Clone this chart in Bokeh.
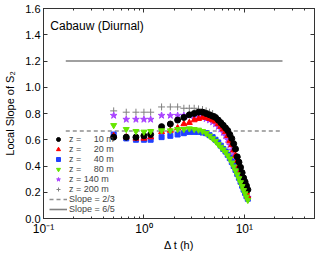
from bokeh.plotting import figure
from bokeh.models import (Legend, LegendItem, LinearAxis, LogAxis, LogTicker, BasicTicker,
                          Label, CustomJSTickFormatter, PrintfTickFormatter, Range1d)
from bokeh.embed import file_html
from bokeh.resources import INLINE

FONT = "Liberation Sans"

# ---- data ----
dt = [0.5, 0.667, 0.833, 1.0, 1.167, 1.5, 1.833, 2.167, 2.5, 2.833, 3.167, 3.5, 3.833,
      4.167, 4.5, 4.833, 5.167, 5.5, 5.833, 6.167, 6.5, 6.833, 7.167, 7.5, 7.833, 8.167,
      8.5, 8.833, 9.167, 9.5, 9.833, 10.167, 10.5, 10.833]

z10 = [0.62, 0.62, 0.62, 0.63, 0.64, 0.70, 0.72, 0.75, 0.77, 0.79, 0.80, 0.81, 0.81,
       0.80, 0.79, 0.78, 0.77, 0.75, 0.73, 0.71, 0.69, 0.67, 0.64, 0.61, 0.57, 0.53,
       0.47, 0.43, 0.39, 0.35, 0.31, 0.28, 0.25, 0.22]
z20 = [0.63, 0.62, 0.61, 0.61, 0.62, 0.66, 0.67, 0.69, 0.72, 0.73, 0.75, 0.76, 0.77,
       0.77, 0.76, 0.75, 0.74, 0.72, 0.70, 0.68, 0.66, 0.63, 0.59, 0.56, 0.52, 0.48,
       0.44, 0.40, 0.36, 0.32, 0.28, 0.24, 0.20, 0.17]
z40 = [0.64, 0.61, 0.60, 0.60, 0.60, 0.62, 0.63, 0.64, 0.65, 0.66, 0.66, 0.66, 0.655,
       0.65, 0.635, 0.62, 0.60, 0.58, 0.555, 0.53, 0.51, 0.485, 0.46, 0.43, 0.40, 0.37,
       0.34, 0.31, 0.28, 0.25, 0.22, 0.195, 0.17, 0.15]
z80 = [0.71, 0.68, 0.665, 0.66, 0.665, 0.67, 0.67, 0.68, 0.68, 0.685, 0.68, 0.675, 0.665,
       0.65, 0.63, 0.61, 0.59, 0.565, 0.545, 0.525, 0.505, 0.48, 0.455, 0.425, 0.395, 0.365,
       0.335, 0.305, 0.275, 0.245, 0.215, 0.19, 0.165, 0.14]
z140 = [0.785, 0.755, 0.755, 0.755, 0.755, 0.785, 0.785, 0.785, 0.785, 0.785, 0.78, 0.775, 0.77,
        0.76, 0.75, 0.735, 0.72, 0.70, 0.68, 0.655, 0.63, 0.60, 0.56, 0.52, 0.485, 0.45,
        0.41, 0.375, 0.34, 0.30, 0.265, 0.23, 0.195, 0.16]
z200 = [0.82, 0.81, 0.81, 0.81, 0.81, 0.85, 0.85, 0.85, 0.84, 0.84, 0.84, 0.835, 0.83,
        0.82, 0.81, 0.80, 0.77, 0.75, 0.73, 0.70, 0.68, 0.66, 0.63, 0.60, 0.56, 0.52,
        0.465, 0.425, 0.385, 0.345, 0.305, 0.275, 0.245, 0.215]

ref_x = [1 / 6, 24]
slope23 = [2 / 3, 2 / 3]
slope65 = [6 / 5, 6 / 5]

labels = ["z = \u2007\u200710 m", "z = \u2007\u200720 m", "z = \u2007\u200740 m",
          "z = \u2007\u200780 m", "z = 140 m", "z = 200 m", "Slope = 2/3", "Slope = 6/5"]

# ---- figure ----
p = figure(width=319, height=253, x_axis_type="log",
           x_range=Range1d(0.1, 50), y_range=Range1d(0, 1.6),
           output_backend="svg", toolbar_location=None,
           min_border_left=43, min_border_right=5, min_border_top=8, min_border_bottom=33)
p.background_fill_color = "white"
p.border_fill_color = "white"
p.outline_line_color = "#333333"
p.xgrid.grid_line_color = None
p.ygrid.grid_line_color = None

r_s65 = p.line(ref_x, slope65, line_color="#808080", line_width=1.6)
r_s23 = p.line(ref_x, slope23, line_color="#909090", line_width=1.4, line_dash="4 3")

r200 = p.scatter(dt, z200, marker="cross", size=7, line_color="#808080", line_width=1)
r140 = p.scatter(dt, z140, marker="star", size=7, fill_color="#aa44ff", line_color="#aa44ff")
r40 = p.scatter(dt, z40, marker="square", size=5, fill_color="#2040ff", line_color="#2040ff")
r20 = p.scatter(dt, z20, marker="triangle", size=6, fill_color="#ff0000", line_color="#ff0000")
r10 = p.scatter(dt, z10, marker="circle", size=6, fill_color="#000000", line_color="#000000")
r80 = p.scatter(dt, z80, marker="inverted_triangle", size=6, fill_color="#66e600", line_color="#66e600")

sup = CustomJSTickFormatter(code="""
const m = {'-':'\u207b','0':'\u2070','1':'\u00b9','2':'\u00b2','3':'\u00b3','4':'\u2074',
           '5':'\u2075','6':'\u2076','7':'\u2077','8':'\u2078','9':'\u2079'};
const e = Math.round(Math.log10(tick));
return '10' + String(e).split('').map(c => m[c]).join('');
""")

for ax in p.xaxis:
    ax.formatter = sup
    ax.ticker = LogTicker(num_minor_ticks=10)
for ax in list(p.xaxis) + list(p.yaxis):
    ax.axis_line_color = "#333333"
    ax.major_tick_line_color = "#333333"
    ax.minor_tick_line_color = "#333333"
    ax.major_tick_in = 4
    ax.major_tick_out = 0
    ax.minor_tick_in = 2
    ax.minor_tick_out = 0
    ax.major_label_text_font = FONT
    ax.major_label_text_color = "black"
    ax.axis_label_text_font = FONT
    ax.axis_label_text_font_style = "normal"
    ax.axis_label_text_font_size = "11px"
    ax.axis_label_text_color = "black"

p.xaxis.major_label_text_font_size = "12px"
p.xaxis.major_label_standoff = 3
p.xaxis.axis_label = "\u0394 t (h)"
p.xaxis.axis_label_standoff = 0
p.yaxis.major_label_text_font_size = "11px"
p.yaxis.major_label_standoff = 3
p.yaxis.minor_tick_line_color = None
p.yaxis.axis_label = "Local Slope of S\u2082"
p.yaxis.axis_label_standoff = 6
p.yaxis.ticker = BasicTicker(desired_num_ticks=8)
p.yaxis.formatter = PrintfTickFormatter(format="%.1f")

top = LogAxis(ticker=LogTicker(num_minor_ticks=10), major_label_text_font_size="1px",
              major_label_text_color=None,
              major_tick_in=4, major_tick_out=0, minor_tick_in=2, minor_tick_out=0,
              major_label_standoff=0, axis_line_color="#333333",
              major_tick_line_color="#333333", minor_tick_line_color="#333333")
p.add_layout(top, "above")
right = LinearAxis(ticker=BasicTicker(desired_num_ticks=8), major_label_text_font_size="1px",
                   major_label_text_color=None,
                   major_tick_in=4, major_tick_out=0, minor_tick_line_color=None,
                   major_label_standoff=0, axis_line_color="#333333",
                   major_tick_line_color="#333333")
p.add_layout(right, "right")

p.add_layout(Label(x=0.117, y=1.47, text="Cabauw (Diurnal)", text_font=FONT,
                   text_font_size="12px", text_baseline="middle", text_color="black"))

legend = Legend(items=[
    LegendItem(label=labels[0], renderers=[r10]),
    LegendItem(label=labels[1], renderers=[r20]),
    LegendItem(label=labels[2], renderers=[r40]),
    LegendItem(label=labels[3], renderers=[r80]),
    LegendItem(label=labels[4], renderers=[r140]),
    LegendItem(label=labels[5], renderers=[r200]),
    LegendItem(label=labels[6], renderers=[r_s23]),
    LegendItem(label=labels[7], renderers=[r_s65]),
], location=(6, 4), padding=0, margin=0, spacing=0, label_height=10, glyph_height=10,
    glyph_width=18, label_standoff=2, label_text_font=FONT, label_text_font_size="9px",
    border_line_color=None, background_fill_alpha=0)
p.add_layout(legend, "center")

open("out.html", "w").write(file_html(p, INLINE))
